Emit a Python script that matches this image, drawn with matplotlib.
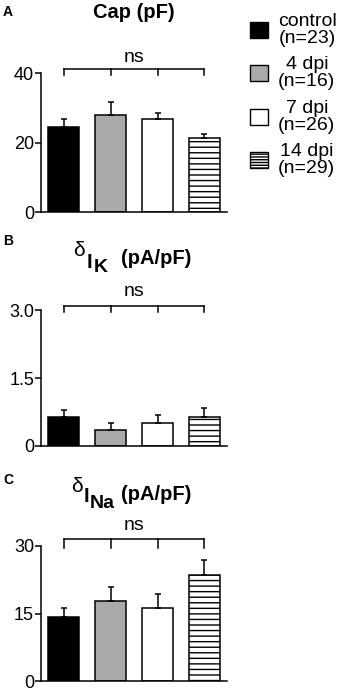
import numpy as np
import matplotlib
matplotlib.use("Agg")
from matplotlib import pyplot as plt
from matplotlib.patches import Rectangle

plt.rcParams['font.family'] = ['Liberation Sans', 'DejaVu Sans']
plt.rcParams['hatch.linewidth'] = 1.0

# Groups and cell counts
groups = ["control", "4 dpi", "7 dpi", "14 dpi"]
n_cells = [23, 16, 26, 29]

# Panel A: capacitance (pF)
cap_mean = [24.5, 28.0, 26.7, 21.3]
cap_sem = [2.4, 3.8, 1.9, 1.2]
cap_ticks = [0, 20, 40]
cap_ticklabels = ["0", "20", "40"]

# Panel B: delta I_K (pA/pF)
ik_mean = [0.63, 0.35, 0.51, 0.65]
ik_sem = [0.16, 0.15, 0.17, 0.18]
ik_ticks = [0, 1.5, 3.0]
ik_ticklabels = ["0", "1.5", "3.0"]

# Panel C: delta I_Na (pA/pF)
ina_mean = [14.3, 17.7, 16.3, 23.6]
ina_sem = [2.0, 3.3, 3.1, 3.3]
ina_ticks = [0, 15, 30]
ina_ticklabels = ["0", "15", "30"]

faces = ["black", "#aaaaaa", "white", "white"]
hatches = [None, None, None, "---"]

fig = plt.figure(figsize=(3.4, 6.92), dpi=100)


def drawPanel(rect, means, sems, ticks, ticklabels, bracketPad, nsPad):
    """Draw one bar panel with error bars and the ns bracket"""
    ax = fig.add_axes(rect)
    x = np.arange(len(means))
    for i in range(len(means)):
        ax.bar(x[i], means[i], width=0.66, color=faces[i], edgecolor="black",
               linewidth=1.1, hatch=hatches[i], zorder=2)
    ax.errorbar(x, means, yerr=[np.zeros(len(sems)), sems], fmt="none",
                ecolor="black", elinewidth=1.1, capsize=2.5, capthick=1.1, zorder=3)

    top = ticks[-1]
    ax.set_ylim(0, top)
    ax.set_xlim(-0.49, 3.48)
    ax.set_yticks(ticks)
    ax.set_yticklabels(ticklabels)
    ax.set_xticks([])
    ax.tick_params(axis="y", direction="out", length=4, width=1.1, labelsize=13, pad=1)
    for side in ["top", "right"]:
        ax.spines[side].set_visible(False)
    for side in ["left", "bottom"]:
        ax.spines[side].set_linewidth(1.1)

    # ns bracket
    yb = top * (1 + bracketPad)
    ax.plot([x[0], x[-1]], [yb, yb], color="black", lw=1.1, clip_on=False)
    for xi in x:
        ax.plot([xi, xi], [yb, top * 0.985], color="black", lw=1.1, clip_on=False)
    ax.text(np.mean(x), top * (1 + nsPad), "ns", ha="center", va="center",
            fontsize=14)
    return ax


drawPanel([0.1206, 0.6936, 0.547, 0.2009], cap_mean, cap_sem, cap_ticks,
          cap_ticklabels, 0.027, 0.115)
drawPanel([0.1206, 0.3555, 0.547, 0.1965], ik_mean, ik_sem, ik_ticks,
          ik_ticklabels, 0.03, 0.135)
drawPanel([0.1206, 0.0155, 0.547, 0.1955], ina_mean, ina_sem, ina_ticks,
          ina_ticklabels, 0.05, 0.155)

# Panel letters
for letter, yy in [("A", 12), ("B", 241), ("C", 480)]:
    fig.text(3 / 340, 1 - yy / 692, letter, fontsize=10, fontweight="bold",
             va="center", ha="left")

# Titles
fig.text(134 / 340, 1 - 13 / 692, "Cap (pF)", fontsize=14.5, fontweight="bold",
         ha="center", va="center")

fig.text(73 / 340, 1 - 250 / 692, "\u03b4", fontsize=15, ha="left", va="center")
fig.text(87 / 340, 1 - 262 / 692, "I", fontsize=14.5, fontweight="bold", ha="left", va="center")
fig.text(94 / 340, 1 - 267 / 692, "K", fontsize=14, fontweight="bold", ha="left", va="center")
fig.text(121 / 340, 1 - 259 / 692, "(pA/pF)", fontsize=14.5, fontweight="bold",
         ha="left", va="center")

fig.text(71 / 340, 1 - 486 / 692, "\u03b4", fontsize=15, ha="left", va="center")
fig.text(84 / 340, 1 - 497 / 692, "I", fontsize=14.5, fontweight="bold", ha="left", va="center")
fig.text(90 / 340, 1 - 503 / 692, "Na", fontsize=14, fontweight="bold", ha="left", va="center")
fig.text(121 / 340, 1 - 494 / 692, "(pA/pF)", fontsize=14.5, fontweight="bold",
         ha="left", va="center")

# Legend
handles = []
for i in range(len(groups)):
    handles.append(Rectangle((0, 0), 1, 1, facecolor=faces[i], edgecolor="black",
                             linewidth=1.0, hatch="------" if hatches[i] else None))
labels = ["{}\n(n={})".format(g, n) for g, n in zip(groups, n_cells)]
leg = fig.legend(handles, labels, loc="upper left", bbox_to_anchor=(250 / 340, 1 - 13 / 692),
                 frameon=False, fontsize=14, handlelength=0.95, handleheight=0.9,
                 handletextpad=0.5, labelspacing=0.5, borderpad=0, borderaxespad=0)
for t in leg.get_texts():
    t.set_multialignment("center")
    t.set_linespacing(0.98)

fig.savefig("out.png", dpi=100)
